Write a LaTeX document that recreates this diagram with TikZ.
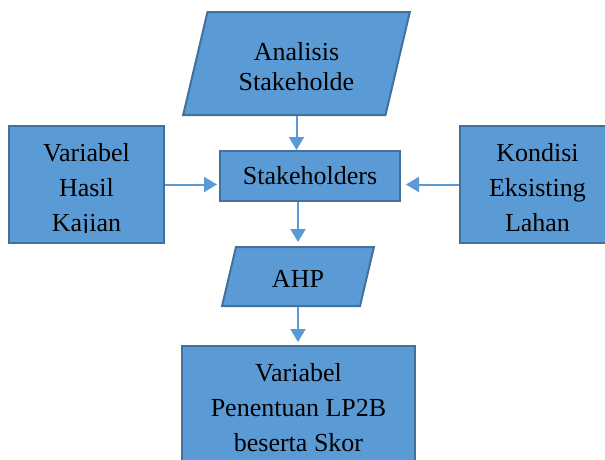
\documentclass[tikz,border=0pt]{standalone}
\usepackage{fontspec}
\setmainfont{Liberation Serif}
\usetikzlibrary{shapes.geometric,arrows.meta,positioning}
\definecolor{cIsi}{HTML}{5B9BD5}
\definecolor{cTepi}{HTML}{41719C}
\definecolor{cPanah}{HTML}{5B9BD5}
\tikzset{
  blok/.style  = {rectangle, draw=cTepi, fill=cIsi, line width=2pt, inner sep=0pt,
                  font=\fontsize{26pt}{35pt}\selectfont},
  jajar/.style = {trapezium, trapezium left angle=76.7, trapezium right angle=103.3,
                  draw=cTepi, fill=cIsi, line width=2pt, inner sep=0pt, text depth=0pt},
  teks/.style  = {align=center, inner sep=0pt, font=\fontsize{26pt}{35pt}\selectfont},
  panah/.style = {-{Triangle[length=13pt,width=15pt]}, draw=cPanah, line width=2pt},
}

\begin{document}
\begin{tikzpicture}[x=1pt,y=1pt]
  \useasboundingbox (0,0) rectangle (605,-459);
  \node[jajar, text width=178pt, text height=103pt] (analisis) at (296.5,-63.5) {};
  \node[teks, font=\fontsize{26pt}{30pt}\selectfont, yshift=-3.5pt] (tanalisis) at (analisis.center) {Analisis\\Stakeholde};
  \node[blok, minimum width=180pt, minimum height=50pt] (stake) at (310,-176) {Stakeholders};
  \node[blok, minimum width=155pt, minimum height=117pt, left=54pt of stake, yshift=-8.5pt] (varhasil) {};
  \node[blok, minimum width=155pt, minimum height=117pt, right=58pt of stake, yshift=-8.5pt] (kondisi) {};
  \node[jajar, text width=124pt, text height=59pt] (ahp) at (298,-276.5) {};
  \node[teks, yshift=-2pt] (tahp) at (ahp.center) {AHP};
  \node[blok, minimum width=233pt, minimum height=140pt] (skor) at (298.5,-416) {};

  % teks kotak (terpotong di bawah)
  \begin{scope}
    \clip ([yshift=12pt]varhasil.south west) rectangle (varhasil.north east);
    \node[teks, below=18.5pt of varhasil.north] (tvarhasil) {Variabel\\Hasil\\Kajian};
  \end{scope}
  \begin{scope}
    \clip ([yshift=12pt]kondisi.south west) rectangle (kondisi.north east);
    \node[teks, below=18.5pt of kondisi.north] (tkondisi) {Kondisi\\Eksisting\\Lahan};
  \end{scope}
  \node[teks, below=18.5pt of skor.north] (tskor) {Variabel\\Penentuan LP2B\\beserta Skor};

  \draw[panah] (analisis.center |- analisis.south) -- (analisis.center |- stake.north);
  \draw[panah, shorten >=2pt] (varhasil.east) -- (varhasil.east -| stake.west);
  \draw[panah, shorten >=5pt] (kondisi.west) -- (kondisi.west -| stake.east);
  \draw[panah, shorten >=4pt] (ahp.center |- stake.south) -- (ahp.center |- ahp.north);
  \draw[panah, shorten >=3pt] (ahp.center |- ahp.south) -- (ahp.center |- skor.north);
\end{tikzpicture}
\end{document}
